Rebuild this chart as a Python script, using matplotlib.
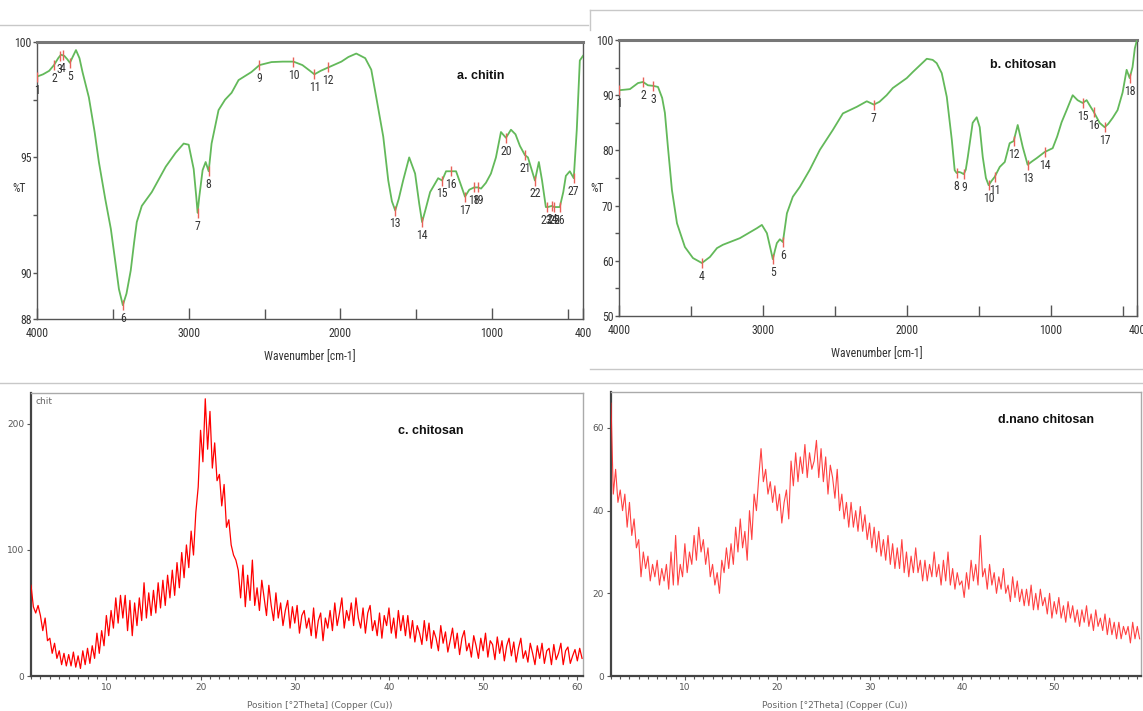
import numpy as np
import matplotlib
matplotlib.use("Agg")
import matplotlib.pyplot as plt
from matplotlib import font_manager
from matplotlib.lines import Line2D
from matplotlib.ticker import MultipleLocator, FixedLocator

# ---------------- data ----------------
# (a) FTIR chitin : wavenumber (cm-1) / %T
a_wn = [4000, 3960, 3920, 3888, 3860, 3842, 3820, 3800, 3783, 3765, 3743, 3720, 3700, 3658, 3620,
        3592, 3550, 3513, 3480, 3460, 3434, 3410, 3382, 3360, 3342, 3309, 3243, 3151, 3086, 3033,
        3000, 2967, 2950, 2941, 2930, 2908, 2888, 2868, 2849, 2803, 2760, 2717, 2671, 2586, 2533,
        2454, 2380, 2309, 2250, 2200, 2171, 2130, 2079, 1993, 1947, 1895, 1836, 1796, 1763, 1717,
        1684, 1660, 1638, 1615, 1586, 1546, 1507, 1480, 1461, 1440, 1408, 1355, 1329, 1303, 1270,
        1237, 1210, 1178, 1150, 1118, 1092, 1072, 1040, 1007, 974, 941, 908, 875, 845, 816, 783,
        763, 740, 717, 691, 670, 645, 632, 605, 590, 553, 530, 513, 487, 461, 441, 421, 400]
a_t = [98.5, 98.6, 98.75, 99.0, 99.3, 99.45, 99.4, 99.25, 99.1, 99.35, 99.65, 99.3, 98.7, 97.6, 96.1,
       94.8, 93.2, 91.9, 90.3, 89.3, 88.6, 89.1, 90.1, 91.3, 92.2, 92.9, 93.5, 94.6, 95.2, 95.6,
       95.55, 94.5, 93.3, 92.6, 93.3, 94.45, 94.8, 94.4, 95.6, 97.05, 97.5, 97.8, 98.35, 98.7, 99.0,
       99.13, 99.15, 99.15, 99.0, 98.75, 98.6, 98.75, 98.9, 99.15, 99.35, 99.5, 99.3, 98.8, 97.6, 95.9,
       94.0, 93.1, 92.7, 93.2, 94.0, 95.0, 94.3, 93.0, 92.2, 92.7, 93.5, 94.1, 94.0, 94.4, 94.4,
       94.4, 93.9, 93.3, 93.6, 93.7, 93.7, 93.65, 93.9, 94.3, 95.0, 96.1, 95.85, 96.2, 96.0, 95.5, 95.1,
       95.0, 94.5, 94.0, 94.8, 94.0, 92.85, 92.85, 92.9, 92.85, 92.85, 93.5, 94.2, 94.4, 94.1, 96.2, 99.2, 99.4]
a_peak_wn = [4000, 3888, 3850, 3830, 3783, 3434, 2941, 2868, 2533, 2309, 2171, 2079, 1638, 1461,
             1329, 1270, 1178, 1118, 1092, 908, 783, 717, 640, 605, 590, 553, 461]
a_peak_lbl = [str(i) for i in range(1, 28)]

# (b) FTIR chitosan
b_wn = [4000, 3960, 3924, 3868, 3833, 3799, 3764, 3729, 3700, 3681, 3660, 3632, 3597, 3542, 3486,
        3424, 3368, 3319, 3278, 3160, 3042, 3007, 2972, 2950, 2931, 2915, 2903, 2882, 2861, 2833,
        2792, 2743, 2674, 2604, 2514, 2444, 2347, 2278, 2229, 2190, 2140, 2097, 2000, 1958, 1861,
        1820, 1792, 1757, 1722, 1687, 1667, 1653, 1640, 1625, 1604, 1590, 1576, 1542, 1514, 1493,
        1472, 1450, 1431, 1410, 1389, 1354, 1319, 1285, 1257, 1229, 1194, 1160, 1130, 1097, 1042,
        986, 955, 924, 889, 847, 813, 778, 750, 725, 701, 660, 625, 600, 569, 535, 500, 472, 451,
        431, 415, 400]
b_t = [90.9, 91.0, 91.1, 92.2, 92.4, 91.8, 91.7, 91.5, 89.5, 86.8, 80.6, 72.8, 66.8, 62.5, 60.5,
       59.6, 60.7, 62.3, 62.9, 64.1, 65.9, 66.5, 65.0, 62.5, 60.3, 62.0, 63.2, 63.9, 63.4, 68.6,
       71.6, 73.4, 76.5, 80.1, 83.7, 86.7, 87.9, 88.9, 88.3, 88.8, 90.0, 91.3, 93.1, 94.2, 96.6,
       96.4, 95.8, 94.0, 89.7, 81.9, 76.4, 75.9, 76.1, 76.0, 75.7, 76.5, 78.8, 85.0, 86.0, 84.2,
       78.8, 75.0, 73.7, 74.5, 75.2, 77.0, 77.9, 81.3, 81.7, 84.6, 80.6, 77.4, 78.0, 78.6, 79.7,
       80.4, 82.5, 85.1, 87.3, 90.0, 89.1, 88.6, 89.1, 88.0, 87.0, 85.0, 84.2, 84.8, 85.9, 87.3, 90.5, 94.6, 93.1,
       95.1, 98.5, 100.0]
b_peak_wn = [4000, 3833, 3764, 3424, 2931, 2861, 2229, 1653, 1604, 1431, 1389, 1257, 1160, 1042,
             778, 701, 625, 451]
b_peak_lbl = [str(i) for i in range(1, 19)]

# (c) XRD chitosan: 2theta from 2.0 in 0.25 steps, counts
c_start, c_step = 2.0, 0.25
c_counts = [72, 55, 50, 56, 48, 36, 46, 28, 30, 18, 26, 14, 20, 9, 18, 8,
            17, 8, 19, 7, 16, 6, 20, 9, 22, 10, 24, 14, 34, 18, 36, 24,
            48, 32, 52, 38, 62, 42, 64, 46, 64, 36, 60, 32, 58, 40, 62, 44,
            74, 46, 66, 48, 68, 50, 74, 54, 76, 56, 80, 62, 84, 64, 90, 70,
            98, 78, 104, 86, 115, 96, 130, 150, 195, 170, 220, 180, 210, 165, 185, 155,
            160, 135, 152, 118, 124, 104, 96, 92, 84, 62, 88, 55, 80, 60, 92, 56,
            70, 52, 76, 62, 48, 72, 56, 44, 66, 46, 58, 40, 52, 60, 38, 55,
            42, 56, 34, 48, 52, 38, 46, 32, 54, 30, 44, 50, 28, 46, 38, 52,
            36, 58, 40, 50, 62, 38, 52, 44, 58, 40, 62, 46, 38, 54, 34, 50,
            56, 36, 44, 32, 50, 30, 48, 40, 54, 34, 46, 30, 52, 36, 48, 32,
            48, 30, 44, 27, 40, 34, 25, 44, 28, 42, 22, 36, 30, 20, 40, 26,
            35, 19, 28, 38, 22, 34, 17, 30, 36, 20, 26, 15, 32, 24, 14, 30,
            20, 34, 15, 28, 25, 13, 31, 18, 28, 12, 24, 30, 16, 27, 11, 22,
            30, 14, 20, 11, 26, 18, 9, 24, 14, 26, 10, 20, 22, 9, 25, 13,
            18, 26, 9, 20, 23, 10, 16, 21, 12, 22, 14]

# (d) XRD nano chitosan
d_start, d_step = 2.0, 0.25
d_counts = [66, 44, 50, 42, 45, 40, 44, 36, 42, 34, 38, 31, 33, 24, 30, 26,
            29, 23, 27, 24, 28, 22, 26, 23, 27, 21, 30, 22, 34, 22, 27, 24,
            32, 25, 30, 27, 34, 28, 36, 30, 33, 27, 31, 24, 27, 22, 25, 20,
            28, 25, 31, 26, 32, 27, 36, 30, 38, 31, 35, 28, 40, 33, 44, 40,
            48, 55, 47, 50, 44, 47, 42, 46, 40, 44, 37, 42, 45, 38, 52, 46,
            54, 47, 53, 49, 56, 48, 54, 50, 52, 57, 48, 55, 47, 53, 44, 51,
            48, 43, 50, 40, 44, 38, 42, 36, 42, 36, 40, 35, 41, 35, 39, 33,
            37, 31, 36, 30, 35, 29, 33, 28, 34, 27, 32, 26, 31, 26, 33, 25,
            30, 24, 29, 25, 31, 25, 28, 23, 28, 23, 27, 24, 30, 24, 27, 22,
            28, 23, 30, 22, 26, 21, 25, 22, 23, 19, 25, 21, 28, 23, 27, 22,
            34, 24, 26, 21, 27, 22, 25, 20, 24, 21, 26, 20, 22, 18, 24, 19,
            23, 18, 21, 17, 21, 17, 22, 16, 20, 16, 21, 17, 19, 15, 20, 14,
            18, 15, 19, 14, 17, 13, 18, 14, 17, 13, 16, 12, 16, 13, 17, 12,
            15, 11, 16, 12, 14, 11, 15, 10, 14, 10, 13, 9, 13, 9, 12, 10,
            12, 8, 13, 9, 12, 9]

# ---------------- fonts ----------------
avail = {f.name for f in font_manager.fontManager.ttflist}
SANS = 'Liberation Sans' if 'Liberation Sans' in avail else 'DejaVu Sans'
NARROW_NAME = SANS
for cand in ['Liberation Sans Narrow', 'Roboto Condensed', 'Open Sans Condensed',
             'DejaVu Sans Condensed']:
    if cand in avail:
        NARROW_NAME = cand
        break
plt.rcParams['font.family'] = [SANS, 'DejaVu Sans']
NARROW = dict(fontfamily=[NARROW_NAME, 'DejaVu Sans'])
NSIZE = 8.5 if NARROW_NAME != SANS else 8

GREEN = '#63b95a'
FIG_W, FIG_H = 1143, 711


def ax_rect(l, t, r, b):
    return [l / FIG_W, 1 - b / FIG_H, (r - l) / FIG_W, (b - t) / FIG_H]


fig = plt.figure(figsize=(FIG_W / 100, FIG_H / 100), dpi=100)
fig.patch.set_facecolor('white')


def fline(x0, y0, x1, y1, c='#c8c8c8', lw=1.0):
    fig.add_artist(Line2D([x0 / FIG_W, x1 / FIG_W], [1 - y0 / FIG_H, 1 - y1 / FIG_H],
                          color=c, lw=lw, transform=fig.transFigure))

fline(0, 25, 588, 25)
fline(590, 10, 1143, 10)
fline(590, 10, 590, 30)
fline(590, 369, 1143, 369)
fline(0, 383, 1143, 383)


def ftir(ax, wn, t, pk, lbl, ylim, yticks, ylabels, yminor, title, title_xy):
    ax.plot(wn, t, color=GREEN, lw=1.3, zorder=3)
    ax.set_xlim(4000, 400)
    ax.set_ylim(*ylim)
    ax.xaxis.set_major_locator(FixedLocator([4000, 3000, 2000, 1000, 400]))
    ax.set_xticklabels(['4000', '3000', '2000', '1000', '400'])
    ax.xaxis.set_minor_locator(FixedLocator([3500, 2500, 1500, 500]))
    ax.set_yticks(yticks)
    ax.set_yticklabels(ylabels)
    ax.yaxis.set_minor_locator(FixedLocator(yminor))
    ax.tick_params(axis='x', which='major', direction='in', length=8, width=1, color='#555',
                   labelsize=NSIZE, pad=6)
    ax.tick_params(axis='x', which='minor', direction='in', length=7, width=1, color='#555')
    ax.tick_params(axis='y', which='both', direction='out', length=3, width=1, color='#555',
                   labelsize=NSIZE, pad=1)
    for lab in ax.get_xticklabels() + ax.get_yticklabels():
        lab.set_fontfamily([NARROW_NAME, 'DejaVu Sans'])
        lab.set_color('#333')
    for s in ['left', 'bottom', 'right']:
        ax.spines[s].set_color('#555')
        ax.spines[s].set_linewidth(1.0)
    ax.spines['top'].set_color('#777')
    ax.spines['top'].set_linewidth(2.2)
    xs = np.array(wn[::-1], dtype=float)
    ys = np.array(t[::-1], dtype=float)
    py = np.interp(pk, xs, ys)
    ax.plot(pk, py, linestyle='none', marker='|', ms=7, mew=1.0, color='#e8625a', zorder=4)
    for x, y, s in zip(pk, py, lbl):
        ax.annotate(s, (x, y), xytext=(0, -5), textcoords='offset points', ha='center', va='top',
                    fontsize=NSIZE, color='#333', annotation_clip=False, **NARROW)
    ax.text(title_xy[0], title_xy[1], title, transform=ax.transAxes, fontsize=9,
            fontweight='bold', ha='center', va='center', color='#111')


ax_a = fig.add_axes(ax_rect(37, 42, 583, 319))
ftir(ax_a, a_wn, a_t, a_peak_wn, a_peak_lbl, (88, 100), [88, 90, 95, 100],
     ['88', '90', '95', '100'], [92.5, 97.5], 'a. chitin', (0.813, 0.876))
fig.text(12 / FIG_W, 1 - 188 / FIG_H, '%T', fontsize=NSIZE, color='#333',
         ha='left', va='center', **NARROW)
fig.text(310 / FIG_W, 1 - 357 / FIG_H, 'Wavenumber [cm-1]', fontsize=NSIZE,
         color='#333', ha='center', va='center', **NARROW)

ax_b = fig.add_axes(ax_rect(619, 40, 1137, 316))
ftir(ax_b, b_wn, b_t, b_peak_wn, b_peak_lbl, (50, 100), [50, 60, 70, 80, 90, 100],
     ['50', '60', '70', '80', '90', '100'], [55, 65, 75, 85, 95], 'b. chitosan', (0.78, 0.91))
fig.text(597 / FIG_W, 1 - 188 / FIG_H, '%T', fontsize=NSIZE, color='#333',
         ha='center', va='center', **NARROW)
fig.text(877 / FIG_W, 1 - 354 / FIG_H, 'Wavenumber [cm-1]', fontsize=NSIZE,
         color='#333', ha='center', va='center', **NARROW)


def xrd(ax, start, step, counts, xlim, ylim, yticks, lw, color, alpha):
    x = start + step * np.arange(len(counts))
    ax.plot(x, counts, color=color, lw=lw, alpha=alpha, zorder=3)
    ax.set_xlim(*xlim)
    ax.set_ylim(*ylim)
    ax.set_yticks(yticks)
    ax.xaxis.set_major_locator(FixedLocator([10, 20, 30, 40, 50, 60]))
    ax.xaxis.set_minor_locator(MultipleLocator(1))
    ax.tick_params(axis='both', which='major', direction='out', length=3, width=0.8,
                   color='#555', labelsize=6.5, labelcolor='#555', pad=2)
    ax.tick_params(axis='x', which='minor', direction='out', length=2.5, width=0.8, color='#555')
    for lab in ax.get_xticklabels() + ax.get_yticklabels():
        lab.set_fontfamily('DejaVu Sans')
    for s in ['left', 'bottom']:
        ax.spines[s].set_color('#444')
        ax.spines[s].set_linewidth(1.6)
    for s in ['top', 'right']:
        ax.spines[s].set_color('#aaa')
        ax.spines[s].set_linewidth(1.0)


ax_c = fig.add_axes(ax_rect(31, 393, 583, 676))
xrd(ax_c, c_start, c_step, c_counts, (2, 60.6), (0, 224.6), [0, 100, 200], 0.9, '#ff0000', 1.0)
ax_c.text(0.008, 0.985, 'chit', transform=ax_c.transAxes, fontsize=6.5, color='#666',
          ha='left', va='top', fontfamily='DejaVu Sans')
ax_c.text(0.725, 0.865, 'c. chitosan', transform=ax_c.transAxes, fontsize=9, fontweight='bold',
          ha='center', va='center', color='#111')
fig.text(320 / FIG_W, 1 - 705 / FIG_H, 'Position [°2Theta] (Copper (Cu))', fontsize=6.5,
         color='#666', ha='center', va='center', fontfamily='DejaVu Sans')

ax_d = fig.add_axes(ax_rect(611, 392, 1141, 676))
xrd(ax_d, d_start, d_step, d_counts, (2, 59.4), (0, 68.7), [0, 20, 40, 60], 0.8, '#ff2020', 0.85)
ax_d.text(0.82, 0.9, 'd.nano chitosan', transform=ax_d.transAxes, fontsize=9, fontweight='bold',
          ha='center', va='center', color='#111')
fig.text(835 / FIG_W, 1 - 705 / FIG_H, 'Position [°2Theta] (Copper (Cu))', fontsize=6.5,
         color='#666', ha='center', va='center', fontfamily='DejaVu Sans')

fig.savefig('out.png', dpi=100, facecolor='white')
